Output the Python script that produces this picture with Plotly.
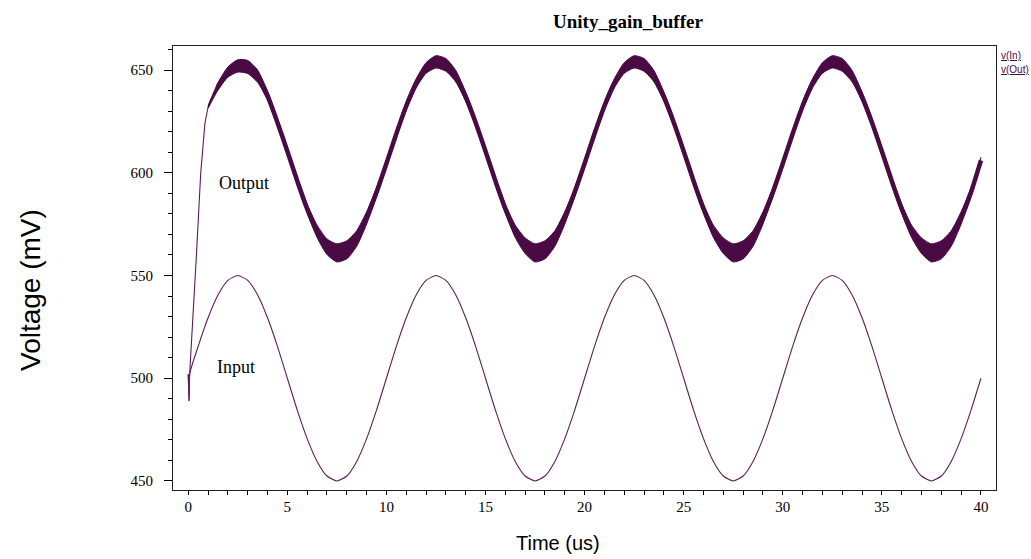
import plotly.graph_objects as go

# ---------------- data ----------------
# Input: v(In) in mV, time in us
in_t = [0, 0.04, 0.07, 0.5, 1.0, 1.5, 2.0, 2.5, 3.0, 3.5, 4.0, 4.5, 5.0, 5.5, 6.0, 6.5, 7.0, 7.5, 8.0, 8.5, 9.0, 9.5,
        10.0, 10.5, 11.0, 11.5, 12.0, 12.5, 13.0, 13.5, 14.0, 14.5, 15.0, 15.5, 16.0, 16.5, 17.0, 17.5, 18.0, 18.5, 19.0, 19.5,
        20.0, 20.5, 21.0, 21.5, 22.0, 22.5, 23.0, 23.5, 24.0, 24.5, 25.0, 25.5, 26.0, 26.5, 27.0, 27.5, 28.0, 28.5, 29.0, 29.5,
        30.0, 30.5, 31.0, 31.5, 32.0, 32.5, 33.0, 33.5, 34.0, 34.5, 35.0, 35.5, 36.0, 36.5, 37.0, 37.5, 38.0, 38.5, 39.0, 39.5,
        40.0]
in_v = [502, 489, 502, 515.5, 529.4, 540.5, 547.6, 550, 547.6, 540.5, 529.4, 515.5, 500, 484.5, 470.6, 459.5, 452.4, 450, 452.4, 459.5, 470.6, 484.5,
        500, 515.5, 529.4, 540.5, 547.6, 550, 547.6, 540.5, 529.4, 515.5, 500, 484.5, 470.6, 459.5, 452.4, 450, 452.4, 459.5, 470.6, 484.5,
        500, 515.5, 529.4, 540.5, 547.6, 550, 547.6, 540.5, 529.4, 515.5, 500, 484.5, 470.6, 459.5, 452.4, 450, 452.4, 459.5, 470.6, 484.5,
        500, 515.5, 529.4, 540.5, 547.6, 550, 547.6, 540.5, 529.4, 515.5, 500, 484.5, 470.6, 459.5, 452.4, 450, 452.4, 459.5, 470.6, 484.5,
        500]

# Output start-up (thin part)
out0_t = [0, 0.04, 0.07, 0.17, 0.25, 0.4, 0.63, 0.84, 1.0, 1.15]
out0_v = [502, 489, 502, 518, 530, 558, 600, 624, 632, 636]

# Output: v(Out) centre of the noisy band and half-width of the noise (mV)
out_t = [1.0, 1.5, 2.0, 2.5, 3.0, 3.5, 4.0, 4.5, 5.0, 5.5, 6.0, 6.5, 7.0, 7.5, 8.0, 8.5, 9.0, 9.5, 10.0, 10.5,
         11.0, 11.5, 12.0, 12.5, 13.0, 13.5, 14.0, 14.5, 15.0, 15.5, 16.0, 16.5, 17.0, 17.5, 18.0, 18.5, 19.0, 19.5, 20.0, 20.5,
         21.0, 21.5, 22.0, 22.5, 23.0, 23.5, 24.0, 24.5, 25.0, 25.5, 26.0, 26.5, 27.0, 27.5, 28.0, 28.5, 29.0, 29.5, 30.0, 30.5,
         31.0, 31.5, 32.0, 32.5, 33.0, 33.5, 34.0, 34.5, 35.0, 35.5, 36.0, 36.5, 37.0, 37.5, 38.0, 38.5, 39.0, 39.5, 40.0]
out_v = [632, 642, 649, 652, 651.5, 647, 637.5, 624.5, 610.5, 596, 582.5, 571.5, 564, 561, 562.5, 568, 578, 590.5, 604.5, 619,
         632.5, 643.5, 651, 654, 652.5, 647, 637, 624.5, 610.5, 596, 582.5, 571.5, 564.5, 561, 562.5, 568, 578, 590.5, 604.5, 619,
         632.5, 643.5, 651, 654, 652.5, 647, 637, 624.5, 610.5, 596, 582.5, 571.5, 564.5, 561, 562.5, 568, 578, 590.5, 604.5, 619,
         632.5, 643.5, 651, 654, 652.5, 647, 637, 624.5, 610.5, 596, 582.5, 571.5, 564.5, 561, 562.5, 568, 578, 590.5, 606]
out_noise = [0.6, 1.8, 2.5, 3.0, 3.2, 3.0, 2.2, 1.8, 1.8, 1.8, 2.2, 3.0, 3.8, 4.4, 4.4, 3.8, 3.0, 2.2, 1.8, 1.8,
             2.0, 2.2, 2.6, 3.0, 3.1, 2.8, 2.2, 1.8, 1.8, 1.8, 2.2, 3.0, 3.8, 4.4, 4.4, 3.8, 3.0, 2.2, 1.8, 1.8,
             2.0, 2.2, 2.6, 3.0, 3.1, 2.8, 2.2, 1.8, 1.8, 1.8, 2.2, 3.0, 3.8, 4.4, 4.4, 3.8, 3.0, 2.2, 1.8, 1.8,
             2.0, 2.2, 2.6, 3.0, 3.1, 2.8, 2.2, 1.8, 1.8, 1.8, 2.2, 3.0, 3.8, 4.4, 4.4, 3.8, 3.0, 2.2, 1.5]

x_ticks = [0, 5, 10, 15, 20, 25, 30, 35, 40]
y_ticks = [450, 500, 550, 600, 650]

# ---------------- figure ----------------
PURPLE = "#4a0b45"
IN_COL = "#5e1d5a"
SERIF = "Liberation Serif"
SANS = "Liberation Sans"

out_hi = [v + n for v, n in zip(out_v, out_noise)]
out_lo = [v - n for v, n in zip(out_v, out_noise)]

fig = go.Figure()
fig.add_trace(go.Scatter(x=in_t, y=in_v, mode="lines", line=dict(color=IN_COL, width=1.1, shape="spline", smoothing=0.6),
                         hoverinfo="skip"))
fig.add_trace(go.Scatter(x=out0_t, y=out0_v, mode="lines", line=dict(color=IN_COL, width=1.1), hoverinfo="skip"))
fig.add_trace(go.Scatter(x=out_t, y=out_lo, mode="lines", line=dict(color=PURPLE, width=1, shape="spline", smoothing=0.6),
                         hoverinfo="skip"))
fig.add_trace(go.Scatter(x=out_t, y=out_hi, mode="lines", fill="tonexty", fillcolor=PURPLE,
                         line=dict(color=PURPLE, width=1, shape="spline", smoothing=0.6), hoverinfo="skip"))
fig.add_trace(go.Scatter(x=out_t[1:], y=out_v[1:], mode="lines",
                         line=dict(color=PURPLE, width=4.5, shape="spline", smoothing=0.6), hoverinfo="skip"))

L, R, T, B = 173, 996, 46, 490
W, H = 1031, 559


def px(xp):
    return (xp - L) / (R - L)


def py(yp):
    return (B - yp) / (B - T)


annotations = [
    dict(text="<b>Unity_gain_buffer</b>", x=px(628), y=py(21), xref="paper", yref="paper", showarrow=False,
         font=dict(family=SERIF, size=19, color="black"), xanchor="center", yanchor="middle"),
    dict(text="Voltage (mV)", x=px(30), y=py(290), xref="paper", yref="paper", showarrow=False, textangle=-90,
         font=dict(family=SANS, size=28, color="black"), xanchor="center", yanchor="middle"),
    dict(text="Time (us)", x=px(558), y=py(543), xref="paper", yref="paper", showarrow=False,
         font=dict(family=SANS, size=20, color="black"), xanchor="center", yanchor="middle"),
    dict(text="Output", x=2.81, y=595, xref="x", yref="y", showarrow=False,
         font=dict(family=SERIF, size=18, color="black"), xanchor="center", yanchor="middle"),
    dict(text="Input", x=2.4, y=505.5, xref="x", yref="y", showarrow=False,
         font=dict(family=SERIF, size=18, color="black"), xanchor="center", yanchor="middle"),
    dict(text="<u>v(In)</u>", x=px(999), y=py(55), xref="paper", yref="paper", showarrow=False,
         font=dict(family=SANS, size=10, color=PURPLE), xanchor="left", yanchor="middle"),
    dict(text="<u>v(Out)</u>", x=px(999), y=py(69), xref="paper", yref="paper", showarrow=False,
         font=dict(family=SANS, size=10, color=PURPLE), xanchor="left", yanchor="middle"),
]

fig.update_layout(
    width=W, height=H,
    margin=dict(l=L, r=W - R, t=T, b=H - B, pad=0),
    paper_bgcolor="white", plot_bgcolor="white",
    showlegend=False,
    annotations=annotations,
    xaxis=dict(range=[-0.77, 40.76], tickvals=x_ticks, ticktext=[str(v) for v in x_ticks],
               ticks="outside", ticklen=4, tickwidth=1, tickcolor="black",
               minor=dict(dtick=1, tick0=0, ticks="outside", ticklen=4, tickwidth=1, tickcolor="black"),
               showline=True, linecolor="#222", linewidth=1, mirror=True,
               showgrid=False, zeroline=False, ticklabelstandoff=-1,
               tickfont=dict(family=SERIF, size=15, color="black")),
    yaxis=dict(range=[445.6, 661.7], tickvals=y_ticks, ticktext=[str(v) for v in y_ticks],
               ticks="outside", ticklen=8, tickwidth=1, tickcolor="black",
               minor=dict(dtick=10, tick0=450, ticks="outside", ticklen=4, tickwidth=1, tickcolor="black"),
               showline=True, linecolor="#222", linewidth=1, mirror=True,
               showgrid=False, zeroline=False, ticklabelstandoff=8,
               tickfont=dict(family=SERIF, size=15, color="black")),
)

fig.write_html("out.html")
